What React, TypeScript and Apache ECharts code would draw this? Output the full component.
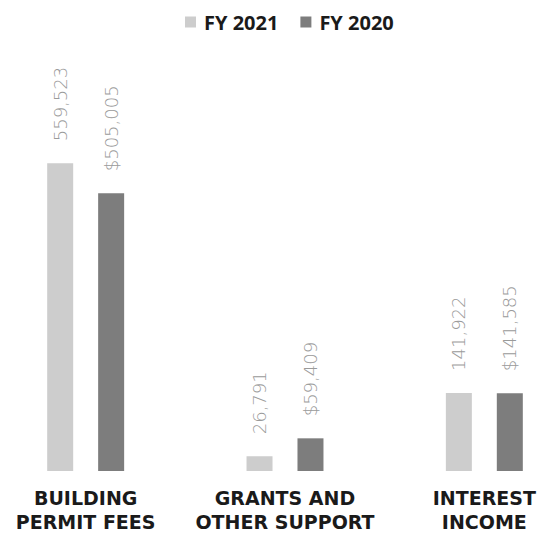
import React, { useEffect, useRef } from "react";
import * as echarts from "echarts";

const categories = ["BUILDING\nPERMIT FEES", "GRANTS AND\nOTHER SUPPORT", "INTEREST\nINCOME"];
const seriesNames = ["FY 2021", "FY 2020"];
const fy2021 = [559523, 26791, 141922];
const fy2020 = [505005, 59409, 141585];
const fy2021Labels = ["559,523", "26,791", "141,922"];
const fy2020Labels = ["$505,005", "$59,409", "$141,585"];

export default function App() {
  const ref = useRef<HTMLDivElement>(null);
  useEffect(() => {
    if (!ref.current) return;
    const chart = echarts.init(ref.current, null, { renderer: "svg" });
    const labelStyle = (texts: string[]) => ({
      show: true,
      position: "top" as const,
      rotate: 90,
      align: "left" as const,
      verticalAlign: "middle" as const,
      distance: 22,
      fontFamily: "DejaVu Sans",
      fontWeight: 200,
      fontSize: 18,
      color: "#9a9a9a",
      formatter: (p: any) => texts[p.dataIndex],
    });
    chart.setOption({
      animation: false,
      backgroundColor: "#ffffff",
      legend: {
        data: seriesNames,
        left: 180,
        top: 7,
        itemWidth: 11,
        itemHeight: 11,
        itemGap: 22,
        icon: "rect",
        textStyle: {
          fontFamily: "Open Sans",
          fontWeight: "bold",
          fontSize: 20,
          color: "#1a1a1a",
          padding: [0, 0, 0, 3],
        },
      },
      grid: {
        left: -14,
        right: -47,
        top: 141,
        bottom: 64,
        containLabel: false,
        outerBoundsMode: "none",
      },
      xAxis: {
        type: "category",
        data: categories,
        axisLine: { show: false },
        axisTick: { show: false },
        axisLabel: {
          interval: 0,
          margin: 15,
          fontFamily: "DejaVu Sans",
          fontWeight: "bold",
          fontSize: 19,
          lineHeight: 24,
          color: "#1a1a1a",
        },
      },
      yAxis: {
        type: "value",
        min: 0,
        max: 600000,
        show: false,
        splitLine: { show: false },
      },
      series: [
        {
          name: seriesNames[0],
          type: "bar",
          data: fy2021,
          barWidth: 26,
          barGap: "96%",
          itemStyle: { color: "#cdcdcd" },
          label: labelStyle(fy2021Labels),
        },
        {
          name: seriesNames[1],
          type: "bar",
          data: fy2020,
          barWidth: 26,
          barGap: "96%",
          itemStyle: { color: "#7d7d7d" },
          label: labelStyle(fy2020Labels),
        },
      ],
    });
    return () => chart.dispose();
  }, []);
  return (
    <div
      ref={ref}
      style={{ position: "fixed", left: 0, top: 0, width: 537, height: 535 }}
    />
  );
}
